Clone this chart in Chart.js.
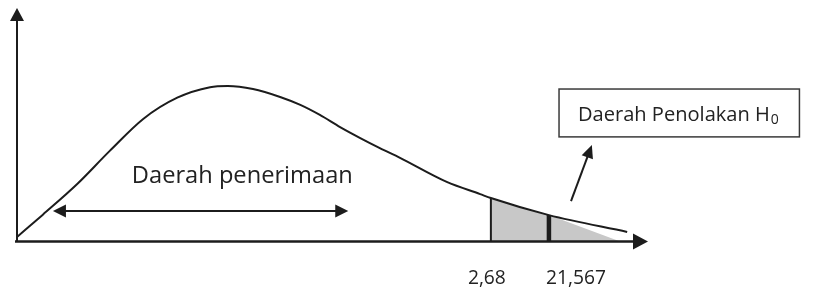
<!DOCTYPE html>
<html>
<head>
<meta charset="utf-8">
<script src="https://cdn.jsdelivr.net/npm/chart.js@4.4.1/dist/chart.umd.min.js"></script>
<style>
html, body { margin: 0; padding: 0; background: #fff; }
</style>
</head>
<body>
<canvas id="chiChart" width="819" height="290"></canvas>
<script>
// kurva distribusi chi-kuadrat (satuan bebas 0..100)
const curveX = [0, 4.1, 9.5, 14.7, 20.0, 25.4, 30.6, 33.4, 37.4, 41.7, 44.9, 48.0, 51.2, 54.4, 57.5, 60.7, 68.1, 73.4, 75.1, 84.3, 96.7];
const curveY = [1.9, 11.5, 24.5, 38.8, 52.5, 61.6, 66.1, 66.6, 65.3, 61.9, 58.5, 54.2, 49.0, 44.3, 40.0, 35.8, 25.5, 20.3, 18.6, 11.3, 4.1];

// arsiran daerah penolakan
const tailX = [75.1, 79.8, 84.3, 95.6];
const tailY = [18.6, 14.7, 11.3, 0];

// nilai kritis
const critX = [75.1, 84.3];
const critY = [18.6, 11.3];
const tickLabels = ['2,68', '21,567'];

const ink = '#1c1c1c';
const font = "'Open Sans', 'Noto Sans', sans-serif";

function toPoints(xs, ys) {
	return xs.map(function (x, i) { return { x: x, y: ys[i] }; });
}

// garis tegak di nilai kritis
function critLine(i) {
	return [{ x: critX[i], y: 0 }, { x: critX[i], y: critY[i] }];
}

// ukuran font supaya teks selebar w px
function fitSize(ctx, text, w) {
	ctx.font = '100px ' + font;
	return 100 * w / ctx.measureText(text).width;
}

function arrowHead(ctx, x, y, ang, len, half) {
	ctx.save();
	ctx.translate(x, y);
	ctx.rotate(ang);
	ctx.beginPath();
	ctx.moveTo(0, 0);
	ctx.lineTo(-len, -half);
	ctx.lineTo(-len, half);
	ctx.closePath();
	ctx.fill();
	ctx.restore();
}

const sketch = {
	id: 'sketch',
	afterDatasetsDraw: function (chart) {
		const ctx = chart.ctx;
		const xs = chart.scales.x, ys = chart.scales.y;
		const px = function (v) { return xs.getPixelForValue(v); };
		const py = function (v) { return ys.getPixelForValue(v); };
		const x0 = px(0), y0 = py(0);

		ctx.save();
		ctx.strokeStyle = ink;
		ctx.fillStyle = ink;
		ctx.lineCap = 'butt';

		// sumbu y
		ctx.lineWidth = 2;
		ctx.beginPath();
		ctx.moveTo(x0, y0);
		ctx.lineTo(x0, py(100) + 10);
		ctx.stroke();
		arrowHead(ctx, x0, py(100), -Math.PI / 2, 13, 7);

		// sumbu x
		ctx.lineWidth = 2.5;
		ctx.beginPath();
		ctx.moveTo(x0 - 2, y0);
		ctx.lineTo(px(100) - 12, y0);
		ctx.stroke();
		arrowHead(ctx, px(100), y0, 0, 15, 8);

		// panah dua arah daerah penerimaan
		ctx.lineWidth = 2;
		const ay = py(13.1), a1 = px(5.7), a2 = px(52.5);
		ctx.beginPath();
		ctx.moveTo(a1 + 10, ay);
		ctx.lineTo(a2 - 10, ay);
		ctx.stroke();
		arrowHead(ctx, a1, ay, Math.PI, 13, 6.5);
		arrowHead(ctx, a2, ay, 0, 13, 6.5);

		// teks daerah penerimaan
		ctx.fillStyle = '#222';
		ctx.textBaseline = 'alphabetic';
		ctx.textAlign = 'left';
		let s = fitSize(ctx, 'Daerah penerimaan', 221);
		ctx.font = s + 'px ' + font;
		ctx.fillText('Daerah penerimaan', px(18.2), py(25));

		// kotak daerah penolakan
		ctx.strokeStyle = '#3a3a3a';
		ctx.lineWidth = 1.5;
		const bx = px(85.9), by = py(65.3);
		ctx.strokeRect(bx, by, px(124) - bx, py(44.8) - by);
		s = fitSize(ctx, 'Daerah Penolakan H', 192);
		ctx.font = s + 'px ' + font;
		const tx = px(88.9), tb = py(51.6);
		ctx.fillText('Daerah Penolakan H', tx, tb);
		const hw = ctx.measureText('Daerah Penolakan H').width;
		ctx.font = (s * 0.7) + 'px ' + font;
		ctx.fillText('0', tx + hw + 1, tb + 3);

		// panah ke kotak
		ctx.fillStyle = ink;
		ctx.strokeStyle = ink;
		ctx.lineWidth = 2;
		const sx = px(87.8), sy = py(17.3), ex = px(91.1), ey = py(41.3);
		const ang = Math.atan2(ey - sy, ex - sx);
		ctx.beginPath();
		ctx.moveTo(sx, sy);
		ctx.lineTo(ex - 11 * Math.cos(ang), ey - 11 * Math.sin(ang));
		ctx.stroke();
		arrowHead(ctx, ex, ey, ang, 13, 6);

		// label nilai kritis
		ctx.fillStyle = '#222';
		ctx.textAlign = 'center';
		s = fitSize(ctx, '21,567', 60);
		ctx.font = s + 'px ' + font;
		ctx.fillText(tickLabels[0], px(critX[0]) - 4, y0 + 42);
		ctx.fillText(tickLabels[1], px(critX[1]) + 27, y0 + 42);

		ctx.restore();
	}
};

new Chart(document.getElementById('chiChart').getContext('2d'), {
	type: 'scatter',
	data: {
		datasets: [
			{
				label: 'kurva',
				data: toPoints(curveX, curveY),
				showLine: true,
				borderColor: ink,
				borderWidth: 2,
				pointRadius: 0,
				cubicInterpolationMode: 'monotone',
				fill: false,
				order: 1
			},
			{
				label: 'penolakan',
				data: toPoints(tailX, tailY),
				showLine: true,
				borderWidth: 0,
				borderColor: 'rgba(0,0,0,0)',
				backgroundColor: '#c8c8c8',
				pointRadius: 0,
				fill: 'origin',
				order: 3
			},
			{
				label: 'kritis1',
				data: critLine(0),
				showLine: true,
				borderColor: ink,
				borderWidth: 2,
				pointRadius: 0,
				order: 2
			},
			{
				label: 'kritis2',
				data: critLine(1),
				showLine: true,
				borderColor: ink,
				borderWidth: 4.5,
				pointRadius: 0,
				order: 2
			}
		]
	},
	options: {
		responsive: false,
		animation: false,
		devicePixelRatio: 1,
		layout: { padding: { left: 17, right: 171, top: 8, bottom: 48.5 } },
		scales: {
			x: { type: 'linear', min: 0, max: 100, display: false },
			y: { min: 0, max: 100, display: false }
		},
		plugins: {
			legend: { display: false },
			tooltip: { enabled: false }
		},
		elements: { line: { tension: 0 } }
	},
	plugins: [sketch]
});
</script>
</body>
</html>
